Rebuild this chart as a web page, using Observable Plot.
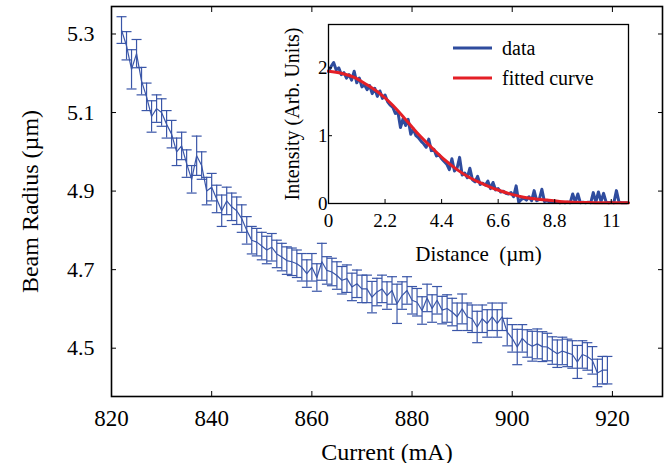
<!DOCTYPE html>
<html><head><meta charset="utf-8">
<script src="https://cdn.jsdelivr.net/npm/d3@7"></script>
<script src="https://cdn.jsdelivr.net/npm/@observablehq/plot@0.6"></script>
<style>
body{margin:0;background:#fff;}
#wrap{position:relative;width:666px;height:463px;font-family:"Liberation Serif","Times New Roman",serif;}
#inset{position:absolute;left:280px;top:14px;}
.leg{position:absolute;left:453px;height:20px;display:flex;align-items:center;font-size:20px;line-height:20px;white-space:nowrap;}
.leg svg{margin-right:10px;}
</style></head><body><div id="wrap"><div id="main"></div><div id="inset"></div></div>
<script>
// Main chart: beam radius vs current
const current = [822,823,824,825,826,827,828,829,830,831,832,833,834,835,836,837,838,839,840,841,
  842,843,844,845,846,847,848,849,850,851,852,853,854,855,856,857,858,859,860,861,
  862,863,864,865,866,867,868,869,870,871,872,873,874,875,876,877,878,879,880,881,
  882,883,884,885,886,887,888,889,890,891,892,893,894,895,896,897,898,899,900,901,
  902,903,904,905,906,907,908,909,910,911,912,913,914,915,916,917,918,919];
const radius = [5.31,5.27,5.21,5.25,5.18,5.14,5.09,5.11,5.10,5.07,5.045,5.00,5.015,4.97,4.93,4.99,4.965,4.90,4.91,4.88,
  4.85,4.875,4.86,4.85,4.83,4.80,4.775,4.77,4.76,4.75,4.757,4.74,4.732,4.723,4.72,4.715,4.706,4.69,4.706,4.68,
  4.72,4.698,4.694,4.685,4.673,4.677,4.656,4.664,4.651,4.651,4.630,4.643,4.651,4.634,4.647,4.613,4.634,4.647,4.622,4.617,
  4.596,4.628,4.601,4.622,4.597,4.601,4.592,4.580,4.600,4.58,4.575,4.554,4.575,4.563,4.580,4.563,4.58,4.541,4.525,4.503,
  4.525,4.512,4.505,4.511,4.504,4.503,4.494,4.486,4.493,4.488,4.484,4.465,4.484,4.479,4.469,4.437,4.444,4.444];
const radiusErr = [0.034,0.036,0.05,0.036,0.035,0.035,0.04,0.035,0.035,0.035,0.035,0.035,0.035,0.035,0.035,0.05,0.035,0.035,0.035,0.035,
  0.04,0.035,0.035,0.035,0.035,0.035,0.035,0.035,0.035,0.035,0.035,0.035,0.035,0.035,0.035,0.035,0.035,0.035,0.035,0.035,
  0.047,0.035,0.035,0.035,0.035,0.035,0.035,0.035,0.035,0.035,0.04,0.035,0.035,0.035,0.035,0.05,0.035,0.035,0.035,0.035,
  0.035,0.035,0.035,0.035,0.035,0.035,0.035,0.035,0.038,0.035,0.035,0.04,0.035,0.035,0.035,0.035,0.035,0.035,0.035,0.045,
  0.035,0.035,0.038,0.038,0.038,0.035,0.035,0.035,0.035,0.035,0.035,0.042,0.035,0.035,0.035,0.035,0.035,0.035];
const currentTicks = [820,840,860,880,900,920];
const radiusTicks = [4.5,4.7,4.9,5.1,5.3];

// Inset: intensity profile
const distance = [0.0,0.1,0.2,0.3,0.4,0.5,0.6,0.7,0.8,0.9,1.0,1.1,1.2,1.3,1.4,1.5,1.6,1.7,1.8,1.9,
  2.0,2.1,2.2,2.3,2.4,2.5,2.6,2.7,2.8,2.9,3.0,3.1,3.2,3.3,3.4,3.5,3.6,3.7,3.8,3.9,
  4.0,4.1,4.2,4.3,4.4,4.5,4.6,4.7,4.8,4.9,5.0,5.1,5.2,5.3,5.4,5.5,5.6,5.7,5.8,5.9,
  6.0,6.1,6.2,6.3,6.4,6.5,6.6,6.7,6.8,6.9,7.0,7.1,7.2,7.3,7.4,7.5,7.6,7.7,7.8,7.9,
  8.0,8.1,8.2,8.3,8.4,8.5,8.6,8.7,8.8,8.9,9.0,9.1,9.2,9.3,9.4,9.5,9.6,9.7,9.8,9.9,
  10.0,10.1,10.2,10.3,10.4,10.5,10.6,10.7,10.8,10.9,11.0,11.1,11.2,11.3,11.4,11.5,11.6];
const intensity = [1.95,2.02,2.08,1.97,2.00,1.90,1.93,1.85,1.90,1.82,
  1.95,1.78,1.85,1.72,1.75,1.68,1.74,1.62,1.70,1.58,
  1.66,1.55,1.60,1.50,1.45,1.42,1.33,1.35,1.12,1.25,
  1.15,1.24,1.02,1.10,1.00,0.97,0.92,0.88,0.83,0.95,
  0.78,0.80,0.70,0.72,0.66,0.62,0.58,0.50,0.66,0.48,
  0.52,0.68,0.42,0.45,0.38,0.52,0.35,0.32,0.40,0.28,
  0.30,0.27,0.33,0.22,0.31,0.20,0.22,0.17,0.18,0.15,
  0.14,0.16,0.10,0.26,0.02,0.06,0.08,0.05,0.10,0.04,
  0.19,0.04,0.06,0.21,0.03,0.04,0.02,0.03,0.02,0.02,
  0.01,0.02,0.01,0.02,0.01,0.14,0.02,0.14,0.01,0.02,
  0.01,0.02,0.01,0.16,0.02,0.17,0.03,0.15,0.02,0.01,
  0.02,0.01,0.19,0.02,0.01,0.01,0.01];
const fitDistance = [0,0.5,1,1.5,2,2.5,3,3.5,4,4.5,5,5.5,6,6.5,7,7.5,8,8.5,9,9.5,10,10.5,11,11.5,11.67];
const fitIntensity = [1.95,1.92,1.86,1.75,1.62,1.45,1.24,1.02,0.83,0.65,0.50,0.38,0.29,0.21,0.15,0.10,0.07,0.05,0.03,0.02,0.015,0.01,0.01,0.01,0.01];
const distanceTicks = [0,2.2,4.4,6.6,8.8,11];
const distanceTickLabels = ["0","2.2","4.4","6.6","8.8","11"];
const intensityTicks = [0,1,2];
const intensityTickLabels = ["0","1","2"];
const legendLabels = ["data","fitted curve"];

const BLUE = "#3a56a8";
const DBLUE = "#2f4c9e";
const RED = "#e41f26";
const FONT = "'Liberation Serif','Times New Roman',serif";

const series = current.map((c,i)=>({c, r: radius[i], lo: radius[i]-radiusErr[i], hi: radius[i]+radiusErr[i]}));
const cap = {draw(ctx, size){const r=Math.sqrt(size/Math.PI); ctx.moveTo(-r,0); ctx.lineTo(r,0);}};

const main = Plot.plot({
  width:666, height:463, marginLeft:111, marginRight:4, marginTop:6, marginBottom:67,
  style:{fontFamily:FONT, background:"white", color:"black", overflow:"visible"},
  x:{domain:[820,930]},
  y:{domain:[4.377,5.37]},
  marks:[
    Plot.ruleX(series,{x:"c", y1:"lo", y2:"hi", stroke:BLUE, strokeWidth:1.2}),
    Plot.dot(series,{x:"c", y:"lo", symbol:cap, r:5, stroke:BLUE, strokeWidth:1.2}),
    Plot.dot(series,{x:"c", y:"hi", symbol:cap, r:5, stroke:BLUE, strokeWidth:1.2}),
    Plot.line(series,{x:"c", y:"r", stroke:BLUE, strokeWidth:1.2}),
    Plot.frame({stroke:"black", strokeWidth:1.6}),
    Plot.axisX({ticks:currentTicks, tickSize:-5, tickPadding:18, fontSize:23, label:null}),
    Plot.axisX({ticks:[], label:"Current (mA)", labelAnchor:"center", labelArrow:"none", labelOffset:63, fontSize:24}),
    Plot.axisX({anchor:"top", ticks:currentTicks, tickSize:-5, tickFormat:()=>"", label:null}),
    Plot.axisY({ticks:radiusTicks, tickSize:-5, tickPadding:22, tickFormat:d3.format(".1f"), fontSize:22, label:null}),
    Plot.axisY({ticks:[], label:"Beam Radius (µm)", labelAnchor:"center", labelArrow:"none", labelOffset:91, fontSize:24}),
    Plot.axisY({anchor:"right", ticks:radiusTicks, tickSize:-5, tickFormat:()=>"", label:null})
  ]
});
document.getElementById("main").append(main);

const profile = distance.map((d,i)=>({d, v:intensity[i]}));
const fit = fitDistance.map((d,i)=>({d, v:fitIntensity[i]}));
const inset = Plot.plot({
  width:358, height:254, marginLeft:48, marginRight:10, marginTop:10, marginBottom:65,
  style:{fontFamily:FONT, background:"transparent", color:"black", overflow:"visible"},
  x:{domain:[0,11.67]},
  y:{domain:[0,2.64]},
  marks:[
    Plot.frame({fill:"white"}),
    Plot.line(profile,{x:"d", y:"v", stroke:DBLUE, strokeWidth:3}),
    Plot.line(fit,{x:"d", y:"v", stroke:RED, strokeWidth:3, curve:"monotone-x"}),
    Plot.frame({stroke:"black", strokeWidth:1.3}),
    Plot.axisX({ticks:distanceTicks, tickSize:-4, tickPadding:14, tickFormat:(d,i)=>distanceTickLabels[i], fontSize:19, label:null}),
    Plot.axisX({ticks:[], label:"Distance  (µm)", labelAnchor:"center", labelArrow:"none", labelOffset:57, fontSize:21}),
    Plot.axisY({ticks:intensityTicks, tickSize:-4, tickPadding:5, tickFormat:(d,i)=>intensityTickLabels[i], fontSize:19, label:null}),
    Plot.axisY({ticks:[], label:"Intensity (Arb. Units)", labelAnchor:"center", labelArrow:"none", labelOffset:44, fontSize:20})
  ]
});
document.getElementById("inset").append(inset);

// legend
const wrap = document.getElementById("wrap");
[[legendLabels[0], DBLUE, 37.7],[legendLabels[1], RED, 67.7]].forEach(([t,c,top])=>{
  const div = document.createElement("div");
  div.className = "leg";
  div.style.top = top + "px";
  div.innerHTML = `<svg width="39" height="6"><line x1="0" y1="3" x2="39" y2="3" stroke="${c}" stroke-width="3"/></svg><span>${t}</span>`;
  wrap.append(div);
});
</script></body></html>
